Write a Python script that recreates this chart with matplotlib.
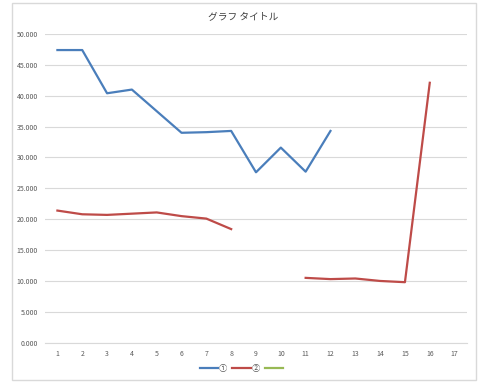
import matplotlib.pyplot as plt
from matplotlib.patches import Rectangle
import numpy as np

plt.rcParams['font.family'] = ['Noto Sans CJK JP', 'DejaVu Sans']

# Data
categories = list(range(1, 18))
series1 = [47.4, 47.4, 40.4, 41.0, 37.5, 34.0, 34.1, 34.3, 27.6, 31.6, 27.7, 34.3,
           np.nan, np.nan, np.nan, np.nan, np.nan]
series2 = [21.4, 20.8, 20.7, 20.9, 21.1, 20.5, 20.1, 18.4, np.nan, np.nan, 10.5, 10.3,
           10.4, 10.0, 9.8, 42.1, np.nan]
series3 = [np.nan] * 17
labels = ['①', '②', ' ']
colors = ['#4A7EBB', '#BE4B48', '#98B954']
y_ticks = [0, 5, 10, 15, 20, 25, 30, 35, 40, 45, 50]

fig = plt.figure(figsize=(4.8, 3.87), dpi=100)
fig.patches.append(Rectangle((12 / 480, 1 - 380 / 387), 464 / 480, 377 / 387,
                             transform=fig.transFigure, fill=False,
                             edgecolor='#D9D9D9', linewidth=1))

ax = fig.add_axes([45 / 480, 1 - 342.7 / 387, 422 / 480, 308.7 / 387])
for vals, lab, col in zip([series1, series2, series3], labels, colors):
    ax.plot(categories, vals, color=col, linewidth=1.6, label=lab)

ax.set_xlim(0.5, 17.5)
ax.set_ylim(0, 50)
ax.set_yticks(y_ticks)
ax.set_yticklabels(['%.3f' % v for v in y_ticks])
ax.set_xticks(categories)
ax.grid(axis='y', color='#D9D9D9', linewidth=0.8)
ax.set_axisbelow(True)
for s in ['left', 'right', 'top']:
    ax.spines[s].set_visible(False)
ax.spines['bottom'].set_color('#D9D9D9')
ax.tick_params(length=0, labelsize=5, labelcolor='#595959', pad=5)

fig.text(0.506, 1 - 17 / 387, 'グラフ タイトル', ha='center', va='center',
         fontsize=7, color='#404040')
# the empty third series still shows a swatch in the legend
handles = [plt.Line2D([], [], color=c, linewidth=1.6) for c in colors]
fig.legend(handles, labels, loc='center', bbox_to_anchor=(0.506, 1 - 368 / 387), ncol=3,
           frameon=False, fontsize=6, handlelength=2.2, handletextpad=0.1,
           columnspacing=0.6, labelcolor='#595959')

fig.savefig('out.png', dpi=100)
